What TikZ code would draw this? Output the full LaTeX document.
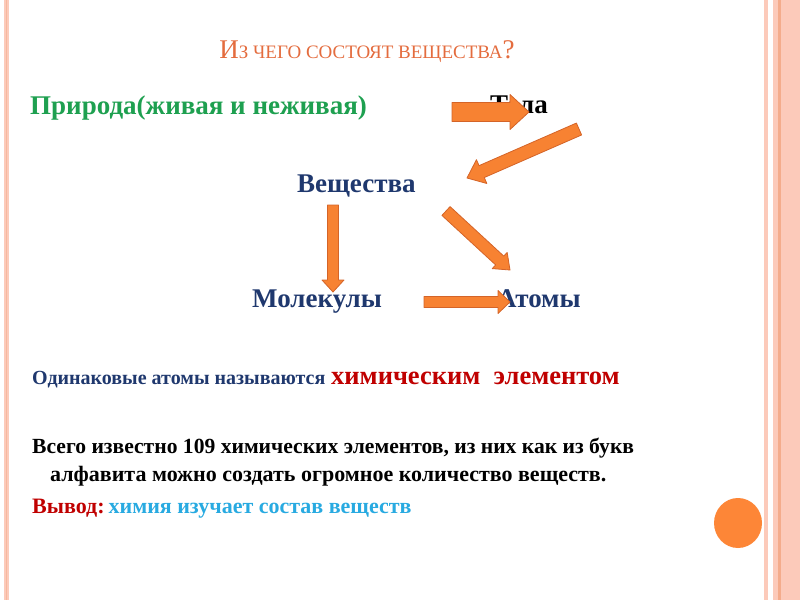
\documentclass[tikz,border=0pt]{standalone}
\usepackage{fontspec}
\setmainfont{Liberation Serif}
\usetikzlibrary{calc}
\definecolor{titlered}{RGB}{228,108,62}
\definecolor{natgreen}{RGB}{30,160,80}
\definecolor{navy}{RGB}{31,56,110}
\definecolor{darkred}{RGB}{192,0,0}
\definecolor{skyblue}{RGB}{40,170,225}
\definecolor{arrfill}{RGB}{247,130,50}
\definecolor{arrline}{RGB}{212,100,40}
\definecolor{stripe}{RGB}{252,202,186}
\definecolor{stripedark}{RGB}{244,172,140}
\definecolor{dotorange}{RGB}{253,134,55}
\tikzset{
	term/.style={inner sep=0pt, anchor=base west, font=\fontsize{27}{27}\selectfont\bfseries},
	bodytext/.style={inner sep=0pt, anchor=base west, font=\fontsize{22}{22}\selectfont\bfseries},
	blockarrow/.style={draw=arrline, fill=arrfill, line width=0.8pt, line join=round},
}
% block arrow: tail, tip, half shaft, half head, head length
\newcommand{\blockarr}[5]{%
	\coordinate (#1-#2) at ($(#2)!#5!(#1)$);
	\draw[blockarrow] ($(#1)!#3!90:(#2)$) -- ($(#1-#2)!#3!90:(#2)$) -- ($(#1-#2)!#4!90:(#2)$) -- (#2)
		-- ($(#1-#2)!#4!-90:(#2)$) -- ($(#1-#2)!#3!-90:(#2)$) -- ($(#1)!#3!-90:(#2)$) -- cycle;
}

\begin{document}
\begin{tikzpicture}[x=1pt, y=-1pt]
	\useasboundingbox (0,0) rectangle (800,600);
	\fill[white] (0,0) rectangle (800,600);
	% side stripes
	\fill[stripe] (4,0) rectangle (9,600);
	\fill[stripedark!60!stripe] (6,0) rectangle (7,600);
	\fill[stripe] (764,0) rectangle (768,600);
	\fill[stripe] (773,0) rectangle (800,600);
	\fill[stripedark] (778,0) rectangle (781,600);
	\fill[dotorange] (738,523) ellipse [x radius=24, y radius=25];

	% title
	\node[inner sep=0pt, anchor=base, text=titlered] (title) at (367,58)
		{\fontsize{27}{27}\selectfont И\fontsize{19}{19}\selectfont З ЧЕГО СОСТОЯТ ВЕЩЕСТВА\fontsize{27}{27}\selectfont ?};

	% scheme
	\node[term, text=natgreen] (priroda) at (30,114) {Природа(живая и неживая)};
	\node[term] (tela) at (490,113) {Тела};
	\node[term, text=navy] (veshch) at (297,192) {Вещества};
	\node[term, text=navy] (molek) at (252,307) {Молекулы};
	\node[term, text=navy] (atomy) at (497,307) {Атомы};

	\coordinate (a1) at (452,112);
	\coordinate (b1) at (529,112);
	\coordinate (a2) at (579,129);
	\coordinate (b2) at (467,178);
	\coordinate (a3) at (333,205);
	\coordinate (b3) at (333,292);
	\coordinate (a4) at (446,211);
	\coordinate (b4) at (510,270);
	\coordinate (a5) at (424,302);
	\coordinate (b5) at (510,302);
	\blockarr{a1}{b1}{9.5pt}{17.5pt}{19pt}
	\blockarr{a2}{b2}{6.5pt}{13pt}{16pt}
	\blockarr{a3}{b3}{5.5pt}{11pt}{12pt}
	\blockarr{a4}{b4}{6pt}{11pt}{14pt}
	\blockarr{a5}{b5}{5.5pt}{11.5pt}{12pt}

	% text below
	\node[bodytext, text=navy, font=\fontsize{20}{20}\selectfont\bfseries] (odin) at (32,384) {Одинаковые атомы называются};
	\node[bodytext, text=darkred, font=\fontsize{26.5}{26.5}\selectfont\bfseries] (khim) at (331,384) {химическим\ \ элементом};
	\node[bodytext, font=\fontsize{21.6}{22}\selectfont\bfseries] (vsego) at (32,453) {Всего известно 109 химических элементов, из них как из букв};
	\node[bodytext] (alfav) at (50,481) {алфавита можно создать огромное количество веществ.};
	\node[bodytext, text=darkred] (vyvod) at (32,513) {Вывод:\hspace{4pt}\textcolor{skyblue}{химия изучает состав веществ}};
\end{tikzpicture}
\end{document}
